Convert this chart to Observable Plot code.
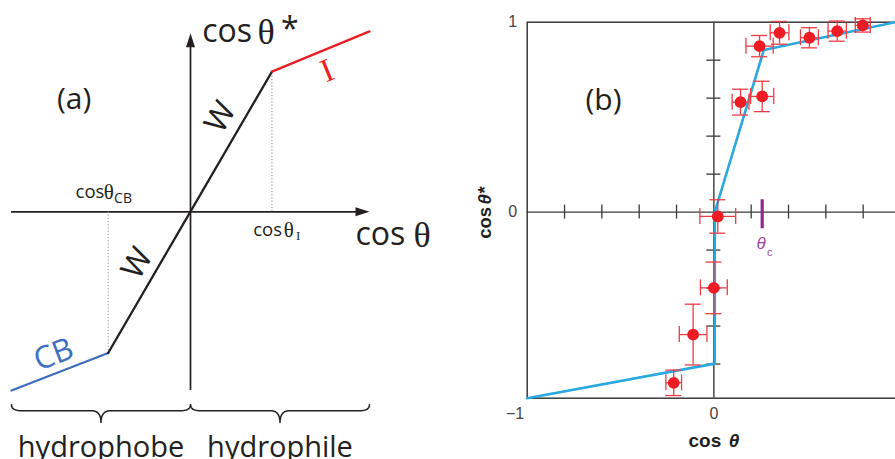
<!DOCTYPE html>
<html><head><meta charset="utf-8">
<script src="https://cdn.jsdelivr.net/npm/d3@7"></script>
<script src="https://cdn.jsdelivr.net/npm/@observablehq/plot@0.6"></script>
<style>
html,body{margin:0;padding:0;background:#fff;overflow:hidden;}
#wrap{position:relative;width:895px;height:459px;overflow:hidden;background:#fff;}
#pa{position:absolute;left:0;top:0;width:450px;}
#pb{position:absolute;left:450px;top:0;width:460px;}
#wrap svg{max-width:none !important;}
</style></head><body><div id="wrap"><div id="pa"></div><div id="pb"></div></div>
<script>
// ---------- Panel (a): schematic ----------
const schemX = [-1, -0.46, 0.455, 1.0];          // break points on cos θ
const schemY = [-1.0, -0.79, 0.785, 1.01];       // cos θ*
const schemSegment = ["CB", "W", "I"];
const segmentColor = ["#3d6ebf", "#231f20", "#ed1c24"];
const regionNames = ["hydrophobe", "hydrophile"];
const regionStart = [-1, 0];
const regionEnd = [0, 1];

// ---------- Panel (b): data ----------
const cosTheta      = [-0.215, -0.111, 0.000, 0.021, 0.143, 0.259, 0.245, 0.352, 0.512, 0.661, 0.798];
const cosThetaStar  = [-0.899, -0.645, -0.399, -0.023, 0.579, 0.609, 0.874, 0.944, 0.918, 0.953, 0.983];
const errCosTheta   = [0.042, 0.074, 0.072, 0.096, 0.045, 0.062, 0.073, 0.050, 0.048, 0.049, 0.040];
const errCosThetaStar = [0.067, 0.160, 0.136, 0.088, 0.068, 0.080, 0.056, 0.060, 0.053, 0.053, 0.035];
const fitX = [-1, 0.005, 0.005, 0.268, 1];
const fitY = [-0.98, -0.798, 0.0, 0.854, 1.006];
const minorTicks = [-0.8, -0.6, -0.4, -0.2, 0.2, 0.4, 0.6, 0.8];
const xTickLabelValues = [0, 1];
const xTickLabels = ["0", "1"];
const yTickLabelValues = [0, 1];
const yTickLabels = ["0", "1"];
const thetaC = 0.259;

const INK = "#231f20";
const SANS = "Open Sans, Noto Sans, sans-serif";
const SERIF = "Liberation Serif, serif";
const ARIAL = "Liberation Sans, Arial, sans-serif";

function ann(x, y, text, opts) {
  return Plot.text([{x, y, text}], {x: "x", y: "y", text: "text", lineAnchor: "middle", ...opts});
}

const segRows = schemSegment.map((s, i) => [
  {x: schemX[i], y: schemY[i]}, {x: schemX[i + 1], y: schemY[i + 1]}
]);

function braceRows(a, b, yEnd, yMain, yTip, r) {
  const m = (a + b) / 2, pts = [];
  const quad = (p0, p1, p2) => {
    for (let k = 0; k <= 12; k++) {
      const t = k / 12, u = 1 - t;
      pts.push({x: u*u*p0[0] + 2*u*t*p1[0] + t*t*p2[0], y: u*u*p0[1] + 2*u*t*p1[1] + t*t*p2[1]});
    }
  };
  quad([a, yEnd], [a, yMain], [a + r, yMain]);
  quad([m - r, yMain], [m, yMain], [m, yTip]);
  quad([m, yTip], [m, yMain], [m + r, yMain]);
  quad([b - r, yMain], [b, yMain], [b, yEnd]);
  return pts;
}

const arrowRight = {draw(ctx) { ctx.moveTo(0, 0); ctx.lineTo(-14, -4.5); ctx.lineTo(-14, 4.5); ctx.closePath(); }};
const arrowUp = {draw(ctx) { ctx.moveTo(0, 0); ctx.lineTo(-4.5, 14); ctx.lineTo(4.5, 14); ctx.closePath(); }};

const plotA = Plot.plot({
  width: 450, height: 459,
  marginLeft: 11, marginRight: 81, marginTop: 32.7, marginBottom: 69,
  x: {domain: [-1, 1], axis: null},
  y: {domain: [-1, 1], axis: null},
  style: {background: "transparent", overflow: "visible", maxWidth: "none"},
  marks: [
    Plot.ruleY([{y: 0}], {y: "y", x1: () => -1, x2: () => 0.93, stroke: INK, strokeWidth: 1.7}),
    Plot.ruleX([{x: 0}], {x: "x", y1: () => -1, y2: () => 0.93, stroke: INK, strokeWidth: 1.7}),
    Plot.dot([{x: 1, y: 0}], {x: "x", y: "y", symbol: arrowRight, fill: INK, stroke: "none", r: 5}),
    Plot.dot([{x: 0, y: 1}], {x: "x", y: "y", symbol: arrowUp, fill: INK, stroke: "none", r: 5}),
    Plot.ruleX([1, 2], {x: i => schemX[i], y1: () => 0, y2: i => schemY[i], stroke: "#8a8a8a", strokeWidth: 1, strokeDasharray: "1.2,2"}),
    ...segRows.map((rows, i) => Plot.line(rows, {x: "x", y: "y", stroke: segmentColor[i], strokeWidth: 2.3})),
    ...regionNames.map((n, i) => Plot.line(braceRows(regionStart[i], regionEnd[i], -1.08, -1.113, -1.179, 0.055),
      {x: "x", y: "y", stroke: INK, strokeWidth: 1.5, curve: "linear"})),
    Plot.text(regionNames, {x: (d, i) => (regionStart[i] + regionEnd[i]) / 2, y: () => -1.321, text: d => d,
      fontFamily: SANS, fontSize: 29, fill: INK, textAnchor: "middle"}),
    ann(-0.65, 0.63, "(a)", {fontFamily: SANS, fontSize: 30, fill: INK}),
    ann(0.168, 0.53, "W", {fontFamily: SANS, fontSize: 32, fill: INK, rotate: -60}),
    ann(-0.298, -0.288, "W", {fontFamily: SANS, fontSize: 32, fill: INK, rotate: -60}),
    ann(-0.764, -0.80, "CB", {fontFamily: SANS, fontSize: 31, fill: segmentColor[0], rotate: -21}),
    ann(0.764, 0.79, "I", {fontFamily: SERIF, fontSize: 33, fill: segmentColor[2], rotate: -22}),
    // cos θ*
    ann(0.065, 1.007, "cos", {fontFamily: SANS, fontSize: 32, fill: INK, textAnchor: "start"}),
    ann(0.374, 1.006, "θ", {fontFamily: SERIF, fontSize: 36, fill: INK, textAnchor: "start"}),
    ann(0.505, 1.02, "*", {fontFamily: SANS, fontSize: 32, fill: INK, textAnchor: "start"}),
    // cos θ
    ann(0.922, -0.129, "cos", {fontFamily: SANS, fontSize: 32, fill: INK, textAnchor: "start"}),
    ann(1.246, -0.130, "θ", {fontFamily: SERIF, fontSize: 36, fill: INK, textAnchor: "start"}),
    // cos θI
    ann(0.350, -0.104, "cos", {fontFamily: SANS, fontSize: 18.5, fill: INK, textAnchor: "start"}),
    ann(0.521, -0.104, "θ", {fontFamily: SERIF, fontSize: 21, fill: INK, textAnchor: "start"}),
    ann(0.589, -0.135, "I", {fontFamily: SERIF, fontSize: 13, fill: INK, textAnchor: "start"}),
    // cos θCB
    ann(-0.642, 0.111, "cos", {fontFamily: SANS, fontSize: 18.5, fill: INK, textAnchor: "start"}),
    ann(-0.484, 0.111, "θ", {fontFamily: SERIF, fontSize: 21, fill: INK, textAnchor: "start"}),
    ann(-0.427, 0.077, "CB", {fontFamily: SANS, fontSize: 14, fill: INK, textAnchor: "start"})
  ]
});
document.getElementById("pa").appendChild(plotA);

// ---------- Panel (b) ----------
const pts = cosTheta.map((x, i) => ({x, y: cosThetaStar[i], ex: errCosTheta[i], ey: errCosThetaStar[i]}));
const fitRows = fitX.map((x, i) => ({x, y: fitY[i]}));
const bW = 455, bH = 459, bML = 76.7, bMR = 5, bMT = 21.7, bMB = 61.3;
const yDom = [-0.98, 1];
const pxX = (bW - bML - bMR) / 2;
const pxY = (bH - bMT - bMB) / (yDom[1] - yDom[0]);
const tickX = 7 / pxX, tickY = 7 / pxY, capX = 8 / pxX, capY = 8 / pxY;
const RED = "#ed1c24", RED_BAR = "#ee3b45", AX = "#3a3a3a";

const plotB = Plot.plot({
  width: bW, height: bH,
  marginLeft: bML, marginRight: bMR, marginTop: bMT, marginBottom: bMB,
  x: {domain: [-1, 1], axis: null},
  y: {domain: yDom, axis: null},
  style: {background: "transparent", overflow: "visible", maxWidth: "none"},
  marks: [
    Plot.frame({stroke: AX, strokeWidth: 1.5}),
    Plot.ruleX([0], {stroke: AX, strokeWidth: 1.4}),
    Plot.ruleY([0], {stroke: AX, strokeWidth: 1.4}),
    Plot.ruleX(minorTicks, {x: d => d, y1: () => -tickY, y2: () => tickY, stroke: AX, strokeWidth: 1.3}),
    Plot.ruleY(minorTicks, {y: d => d, x1: () => -tickX, x2: () => tickX, stroke: AX, strokeWidth: 1.3}),
    Plot.line(fitRows, {x: "x", y: "y", stroke: "#29a9e0", strokeWidth: 2.6}),
    Plot.ruleY(pts, {y: "y", x1: d => d.x - d.ex, x2: d => d.x + d.ex, stroke: RED_BAR, strokeWidth: 1.3}),
    Plot.ruleX(pts, {x: "x", y1: d => d.y - d.ey, y2: d => d.y + d.ey, stroke: RED_BAR, strokeWidth: 1.3}),
    Plot.ruleX(pts, {x: d => d.x - d.ex, y1: d => d.y - capY, y2: d => d.y + capY, stroke: RED_BAR, strokeWidth: 1.3}),
    Plot.ruleX(pts, {x: d => d.x + d.ex, y1: d => d.y - capY, y2: d => d.y + capY, stroke: RED_BAR, strokeWidth: 1.3}),
    Plot.ruleY(pts, {y: d => d.y - d.ey, x1: d => d.x - capX, x2: d => d.x + capX, stroke: RED_BAR, strokeWidth: 1.3}),
    Plot.ruleY(pts, {y: d => d.y + d.ey, x1: d => d.x - capX, x2: d => d.x + capX, stroke: RED_BAR, strokeWidth: 1.3}),
    Plot.dot(pts, {x: "x", y: "y", r: 5.9, fill: RED, stroke: "none"}),
    Plot.ruleX([thetaC], {x: d => d, y1: () => -0.088, y2: () => 0.065, stroke: "#93278f", strokeWidth: 3.2}),
    ann(thetaC - 0.006, -0.164, "θ", {fontFamily: ARIAL, fontStyle: "italic", fontSize: 17, fill: "#a0449e"}),
    ann(thetaC + 0.041, -0.211, "c", {fontFamily: ARIAL, fontSize: 11, fill: "#a0449e"}),
    Plot.text(yTickLabelValues, {x: () => -1, y: d => d, text: (d, i) => yTickLabels[i], dx: -10, textAnchor: "end",
      fontFamily: ARIAL, fontSize: 16, fill: "#444"}),
    Plot.text(xTickLabelValues, {x: d => d, y: () => yDom[0], text: (d, i) => xTickLabels[i], dy: 16,
      fontFamily: ARIAL, fontSize: 16, fill: "#444"}),
    Plot.text([-1], {x: d => d, y: () => yDom[0], text: () => "\u22121", dy: 16, dx: -3, textAnchor: "end",
      fontFamily: ARIAL, fontSize: 16, fill: "#444"}),
    ann(-0.1356, -1.2028, "cos", {fontFamily: ARIAL, fontWeight: "bold", fontSize: 19, fill: INK, textAnchor: "start"}),
    ann(0.080, -1.2028, "θ", {fontFamily: ARIAL, fontWeight: "bold", fontStyle: "italic", fontSize: 19, fill: INK, textAnchor: "start"}),
    ann(-1.2232, -0.1406, "cos", {fontFamily: ARIAL, fontWeight: "bold", fontSize: 18.5, fill: INK, textAnchor: "start", rotate: -90}),
    ann(-1.2232, 0.040, "θ*", {fontFamily: ARIAL, fontWeight: "bold", fontStyle: "italic", fontSize: 18.5, fill: INK, textAnchor: "start", rotate: -90}),
    ann(-0.591, 0.587, "(b)", {fontFamily: SANS, fontSize: 30, fill: INK})
  ]
});
document.getElementById("pb").appendChild(plotB);
</script>
</body></html>
